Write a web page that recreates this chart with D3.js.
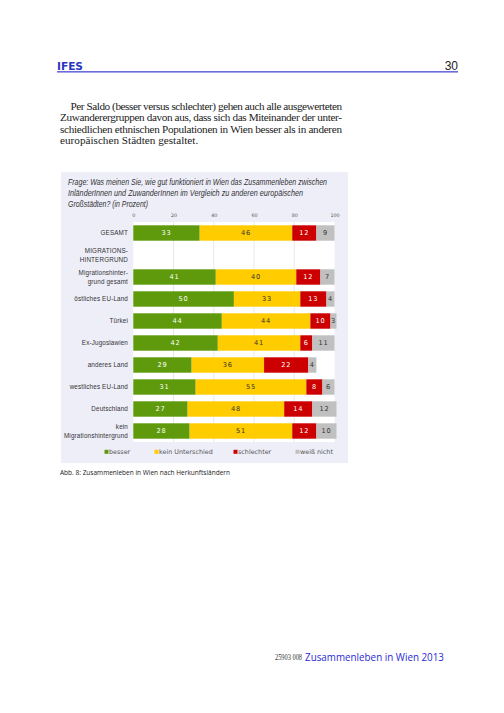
<!DOCTYPE html>
<html><head><meta charset="utf-8">
<script src="https://cdn.jsdelivr.net/npm/d3@7"></script>
<style>
html,body{margin:0;padding:0;background:#fff;}
svg{display:block;}
</style></head>
<body>
<svg id="page" width="504" height="713"></svg>
<script>
const categories = ["GESAMT","MIGRATIONS-|HINTERGRUND","Migrationshinter-|grund gesamt","östliches EU-Land","Türkei","Ex-Jugoslawien","anderes Land","westliches EU-Land","Deutschland","kein|Migrationshintergrund"];
const seriesNames = ["besser","kein Unterschied","schlechter","weiß nicht"];
const besser      = [33, null, 41, 50, 44, 42, 29, 31, 27, 28];
const keinUnters  = [46, null, 40, 33, 44, 41, 36, 55, 48, 51];
const schlechter  = [12, null, 12, 13, 10, 6, 22, 8, 14, 12];
const weissNicht  = [9, null, 7, 4, 3, 11, 4, 6, 12, 10];
const tickValues  = [0, 20, 40, 60, 80, 100];
const colors = ["#5e9a0c", "#ffcc00", "#cc0000", "#c0c0c0"];
const labelColors = ["#ffffff", "#333333", "#ffffff", "#333333"];

const paragraph = [
  "Per Saldo (besser versus schlechter) gehen auch alle ausgewerteten",
  "Zuwanderergruppen davon aus, dass sich das Miteinander der unter-",
  "schiedlichen ethnischen Populationen in Wien besser als in anderen",
  "europäischen Städten gestaltet."
];
const question = [
  "Frage: Was meinen Sie, wie gut funktioniert in Wien das Zusammenleben zwischen",
  "InländerInnen und ZuwanderInnen im Vergleich zu  anderen europäischen",
  "Großstädten? (in Prozent)"
];
const questionWidths = [259, 235, 80];

const svg = d3.select("#page");

// Header
svg.append("text").attr("x", 57).attr("y", 69.5)
  .attr("font-family", "DejaVu Sans").attr("font-weight", "bold").attr("font-size", 10.5)
  .attr("fill", "#2a36c0").attr("textLength", 26).attr("lengthAdjust","spacingAndGlyphs").text("IFES");
svg.append("rect").attr("x", 57).attr("y", 71.2).attr("width", 401).attr("height", 1.3).attr("fill", "#4a4ad0");
svg.append("text").attr("x", 458).attr("y", 70).attr("text-anchor", "end")
  .attr("font-family", "Liberation Sans").attr("font-size", 12).attr("fill", "#222").text("30");

// Paragraph
paragraph.forEach((line, i) => {
  const t = svg.append("text")
    .attr("x", i === 0 ? 70.5 : 60).attr("y", 110.3 + i * 11.1)
    .attr("font-family", "Liberation Serif").attr("font-size", 11.2).attr("fill", "#222").text(line);
  if (i < 3) t.attr("textLength", i === 0 ? 271.5 : 282).attr("lengthAdjust", "spacing");
});

// Chart box
svg.append("rect").attr("x", 61).attr("y", 172).attr("width", 287).attr("height", 291).attr("fill", "#eeeef9");

question.forEach((line, i) => {
  svg.append("text").attr("x", 68).attr("y", 185.3 + i * 10.8)
    .attr("font-family", "Liberation Sans").attr("font-style", "italic").attr("font-size", 8.7)
    .attr("fill", "#333").attr("textLength", questionWidths[i]).attr("lengthAdjust", "spacingAndGlyphs")
    .text(line);
});

const x = d3.scaleLinear().domain([0, 100]).range([133.3, 334.5]);
const y = d3.scaleBand().domain(categories).range([222, 442]).paddingInner(0.3).paddingOuter(0.15);

// plot area
svg.append("rect").attr("x", x(0)).attr("y", 222).attr("width", x(100) - x(0)).attr("height", 220).attr("fill", "#fff");

// grid lines
svg.append("g").selectAll("line").data(tickValues.slice(1, 5)).join("line")
  .attr("x1", d => x(d)).attr("x2", d => x(d)).attr("y1", 222).attr("y2", 442)
  .attr("stroke", "#d8d8d8").attr("stroke-width", 0.6);

// top axis
const axis = svg.append("g").attr("transform", "translate(0,222)")
  .call(d3.axisTop(x).tickValues(tickValues).tickSize(0).tickPadding(5));
axis.select(".domain").remove();
axis.selectAll("text").attr("font-family", "DejaVu Sans").attr("font-size", 4.8).attr("fill", "#555");

// category labels
const catG = svg.append("g");
categories.forEach(c => {
  const parts = c.split("|");
  const cy = y(c) + y.bandwidth() / 2;
  const t = catG.append("text").attr("text-anchor", "end")
    .attr("font-family", "Liberation Sans").attr("font-size", 6.3).attr("letter-spacing", 0.15).attr("fill", "#333");
  parts.forEach((p, j) => {
    t.append("tspan").attr("x", 128)
      .attr("y", cy + 2.2 + (j - (parts.length - 1) / 2) * 9).text(p);
  });
});

// stacked bars
const series = [besser, keinUnters, schlechter, weissNicht];
const rows = categories.map((c, i) => ({ cat: c, vals: series.map(s => s[i]) }));
const barsG = svg.append("g");
rows.forEach(r => {
  if (r.vals[0] == null) return;
  let acc = 0;
  r.vals.forEach((v, k) => {
    const x0 = x(acc), x1 = x(acc + v);
    barsG.append("rect").attr("x", x0).attr("y", y(r.cat)).attr("width", x1 - x0)
      .attr("height", y.bandwidth()).attr("fill", colors[k]);
    barsG.append("text").attr("x", (x0 + x1) / 2).attr("y", y(r.cat) + y.bandwidth() / 2 + 2.4)
      .attr("text-anchor", "middle").attr("font-family", "DejaVu Sans").attr("font-size", 6.6)
      .attr("letter-spacing", 0.8).attr("fill", labelColors[k]).text(v);
    acc += v;
  });
});

// legend
const legendX = [104.5, 154.5, 233.5, 295.5];
seriesNames.forEach((n, k) => {
  svg.append("rect").attr("x", legendX[k]).attr("y", 449.8).attr("width", 4).attr("height", 4).attr("fill", colors[k]);
  svg.append("text").attr("x", legendX[k] + 4.5).attr("y", 454.2)
    .attr("font-family", "DejaVu Sans").attr("font-size", 6.4).attr("fill", "#555").text(n);
});

// caption
svg.append("text").attr("x", 60).attr("y", 474.5)
  .attr("font-family", "Open Sans").attr("font-size", 7.4).attr("fill", "#222")
  .attr("textLength", 170).attr("lengthAdjust", "spacingAndGlyphs")
  .text("Abb. 8: Zusammenleben in Wien nach Herkunftsländern");

// footer
svg.append("text").attr("x", 275).attr("y", 660)
  .attr("font-family", "Liberation Serif").attr("font-size", 7.5).attr("fill", "#333")
  .attr("textLength", 27).attr("lengthAdjust", "spacingAndGlyphs").text("25903 008");
svg.append("text").attr("x", 305).attr("y", 660.5)
  .attr("font-family", "Open Sans").attr("font-size", 10.6).attr("fill", "#2a2ad8")
  .attr("textLength", 139).attr("lengthAdjust", "spacingAndGlyphs").text("Zusammenleben in Wien 2013");
</script>
</body></html>
